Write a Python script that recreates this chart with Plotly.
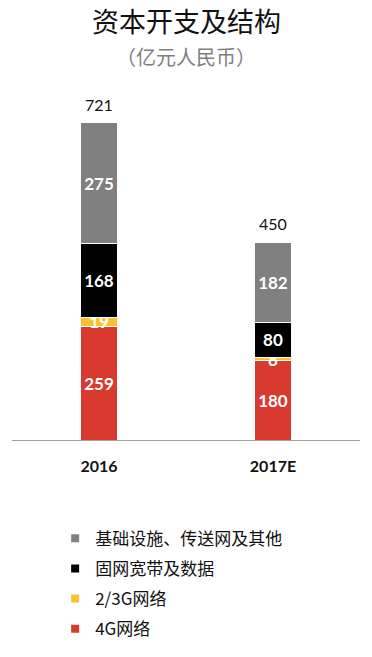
import plotly.graph_objects as go

categories = ["2016", "2017E"]
series_names = ["4G网络", "2/3G网络", "固网宽带及数据", "基础设施、传送网及其他"]
values_4g = [259, 180]
values_23g = [19, 8]
values_fixed = [168, 80]
values_infra = [275, 182]
totals = [721, 450]

colors = {
    "4G网络": "#d93a30",
    "2/3G网络": "#f6c231",
    "固网宽带及数据": "#000000",
    "基础设施、传送网及其他": "#808080",
}
series_values = {
    "4G网络": values_4g,
    "2/3G网络": values_23g,
    "固网宽带及数据": values_fixed,
    "基础设施、传送网及其他": values_infra,
}

FONT = "Lato, 'Noto Sans CJK SC', sans-serif"
CJK = "'Noto Sans CJK SC', Lato, sans-serif"

fig = go.Figure()
for name in series_names:
    vals = series_values[name]
    fig.add_trace(go.Bar(
        x=categories, y=vals, name=name,
        marker=dict(color=colors[name], line=dict(color="white", width=1)),
        text=[str(v) for v in vals],
        textposition="inside", insidetextanchor="middle", textangle=0,
        textfont=dict(family=FONT, size=17, color="white", weight="bold"),
        showlegend=False, hoverinfo="skip",
    ))

# legend entries (top to bottom as in the reference)
for name in reversed(series_names):
    fig.add_trace(go.Scatter(
        x=[None], y=[None], mode="markers", name=name, legendgroup=name,
        marker=dict(symbol="square", size=8, color=colors[name]),
        showlegend=True,
    ))

# totals above each stack (category index positions on the category axis)
for i, tot in enumerate(totals):
    fig.add_annotation(x=i, y=tot, text=str(tot), showarrow=False,
                       yanchor="bottom", yshift=7,
                       font=dict(family=FONT, size=16, color="#111111"))

fig.add_annotation(xref="paper", yref="paper", x=0.5, y=(441 - 20) / 353,
                   text="资本开支及结构", showarrow=False, yanchor="middle",
                   font=dict(family=CJK, size=27, color="#111111"))
fig.add_annotation(xref="paper", yref="paper", x=0.5, y=(441 - 56) / 353,
                   text="（亿元人民币）", showarrow=False, yanchor="middle",
                   font=dict(family=CJK, size=20, color="#7f7f7f"))

fig.update_layout(
    width=372, height=657,
    margin=dict(l=12, r=12, t=88, b=216),
    barmode="stack", bargap=0.787,
    plot_bgcolor="white", paper_bgcolor="white",
    uniformtext=dict(minsize=17, mode="show"),
    legend=dict(x=0.124, y=-0.226, xanchor="left", yanchor="top",
                traceorder="grouped", tracegroupgap=5,
                font=dict(family=CJK, size=17, color="#111111"),
                bgcolor="rgba(0,0,0,0)"),
    xaxis=dict(type="category", range=[-0.5, 1.5], showline=True,
               linecolor="#a0a0a0", linewidth=1, ticks="", showgrid=False,
               ticklabelstandoff=12,
               tickfont=dict(family=FONT, size=16, color="#111111", weight="bold")),
    yaxis=dict(range=[0, 800], visible=False, showgrid=False),
)

fig.write_html("out.html", config={"displayModeBar": False},
               post_script="document.body.style.margin='0';")
